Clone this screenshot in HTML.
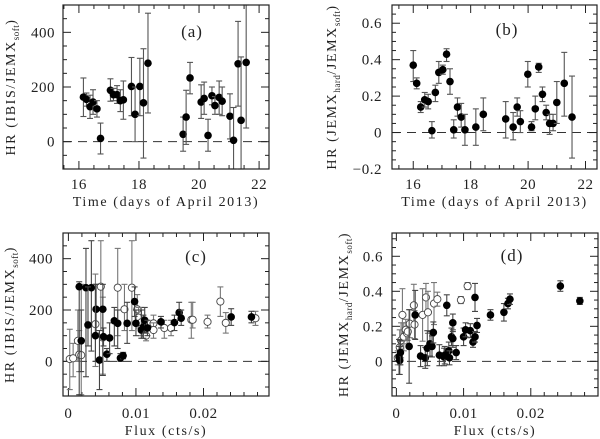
<!DOCTYPE html>
<html><head><meta charset="utf-8">
<style>
html,body{margin:0;padding:0;background:#fff;}
svg{display:block;font-family:"Liberation Serif",serif;}
</style></head>
<body>
<svg id="fig" width="600" height="439" viewBox="0 0 600 439" xmlns="http://www.w3.org/2000/svg"></svg>
<script>
// ---- Panel (a): HR IBIS/JEMX soft vs time ----
const aTime=[16.15,16.25,16.37,16.47,16.6,16.72,17.05,17.15,17.27,17.38,17.48,17.75,17.87,18.03,18.15,18.3,19.47,19.57,19.7,20.07,20.17,20.3,20.43,20.53,20.67,20.77,21.03,21.15,21.3,21.4,21.57];
const aHR=[163,155,128,145,120,12,188,172,172,150,153,202,100,202,142,287,27,90,233,145,158,23,168,132,162,148,93,5,285,78,290];
const aLo=[92,130,85,100,90,-45,148,150,140,110,82,95,0,95,-60,105,-35,-10,175,85,100,-35,135,100,100,95,10,-100,130,-100,50];
const aHi=[233,178,170,190,150,68,230,195,205,190,222,308,200,305,340,470,90,188,290,208,218,82,200,165,222,200,175,125,440,310,500];
// ---- Panel (b): HR JEMX hard/soft vs time ----
const bTime=[16.0,16.12,16.26,16.4,16.52,16.65,16.77,16.89,17.03,17.16,17.28,17.41,17.54,17.67,17.8,18.18,18.44,19.22,19.48,19.62,19.73,19.99,20.12,20.25,20.37,20.5,20.63,20.75,20.87,21.0,21.26,21.53];
const bHR=[0.37,0.27,0.14,0.18,0.17,0.01,0.22,0.33,0.345,0.43,0.28,0.015,0.14,0.085,0.015,0.03,0.10,0.075,0.03,0.14,0.06,0.32,0.03,0.13,0.36,0.21,0.11,0.05,0.05,0.165,0.27,0.085];
const bLo=[0.28,0.24,0.11,0.14,0.13,-0.03,0.17,0.27,0.32,0.39,0.21,-0.03,0.09,0.03,-0.07,-0.07,0.01,-0.03,-0.04,0.09,0,0.25,0.01,0.07,0.33,0.17,0.07,-0.01,0.01,0.05,0.09,-0.14];
const bHi=[0.45,0.30,0.17,0.22,0.21,0.06,0.26,0.39,0.37,0.46,0.35,0.07,0.19,0.16,0.10,0.13,0.19,0.17,0.11,0.19,0.12,0.39,0.06,0.20,0.38,0.25,0.15,0.10,0.10,0.28,0.44,0.31];
// ---- Panel (c): HR IBIS/JEMX soft vs flux ----
const cFluxF=[0.0016,0.0019,0.0026,0.0034,0.0029,0.0041,0.0040,0.0046,0.0051,0.0052,0.0057,0.0061,0.0068,0.0073,0.0077,0.0081,0.0087,0.0098,0.0100,0.0108,0.0111,0.0113,0.0117,0.0137,0.0157,0.0164,0.0167,0.0241,0.0271];
const cHRF=[291,80,287,287,142,203,100,5,203,96,28,91,158,148,13,22,148,233,148,122,134,160,130,154,151,190,168,173,173];
const cLoF=[-130,-40,-60,40,60,110,0,-110,-55,60,0,30,60,50,0,10,70,175,100,90,90,110,100,130,120,160,140,140,150];
const cHiF=[310,200,440,470,290,300,300,120,300,130,50,150,210,200,30,35,230,290,200,200,180,210,160,175,180,230,200,205,195];
const cFluxO=[0.0002,0.0007,0.0014,0.0016,0.0019,0.0040,0.0048,0.0051,0.0073,0.0083,0.0094,0.0102,0.0104,0.0108,0.0115,0.0126,0.0126,0.0142,0.0152,0.0182,0.0184,0.0206,0.0225,0.0233,0.0277];
const cHRO=[9,12,80,26,24,145,291,93,287,203,287,203,170,152,100,148,122,130,130,162,162,154,233,150,168];
const cLoO=[-110,-60,0,-40,-130,-20,120,-50,100,120,120,150,130,100,80,120,90,90,100,90,130,130,175,110,140];
const cHiO=[125,70,200,120,300,340,470,250,440,300,470,260,210,210,130,180,150,160,160,230,230,180,290,190,195];
// ---- Panel (d): HR JEMX hard/soft vs flux ----
const dFluxF=[0.0004,0.0005,0.0006,0.0019,0.0028,0.0036,0.0043,0.0046,0.005,0.0053,0.0055,0.0064,0.0071,0.0072,0.0075,0.0078,0.0079,0.0082,0.0084,0.0084,0.0089,0.01,0.0103,0.011,0.0114,0.0117,0.0117,0.012,0.014,0.016,0.0166,0.0169,0.0244,0.0273];
const dHRF=[0.025,0.005,0.05,0.085,0.265,0.03,0.02,0.075,0.1,0.085,0.165,0.035,0.025,0.035,0.32,0.06,0.02,0.14,0.22,0.13,0.05,0.14,0.18,0.175,0.11,0.14,0.365,0.205,0.265,0.28,0.33,0.355,0.43,0.345];
const dErrF=[0.1,0.08,0.07,0.21,0.14,0.06,0.06,0.1,0.07,0.06,0.06,0.06,0.05,0.05,0.06,0.05,0.04,0.05,0.05,0.05,0.04,0.05,0.04,0.04,0.03,0.03,0.08,0.04,0.03,0.05,0.03,0.03,0.03,0.02];
const dFluxO=[0.0002,0.0005,0.0007,0.0009,0.0011,0.0014,0.0016,0.0017,0.002,0.0026,0.0027,0.0039,0.0044,0.0047,0.0056,0.0061,0.0096,0.0106];
const dHRO=[0.02,0.08,0.12,0.265,0.14,0.18,0.16,0.17,0.215,0.32,0.21,0.265,0.365,0.28,0.33,0.355,0.35,0.43];
const dErrO=[0.04,0.1,0.1,0.15,0.08,0.06,0.06,0.05,0.08,0.12,0.08,0.15,0.08,0.12,0.12,0.04,0.02,0.02];

const NS="http://www.w3.org/2000/svg";
const svg=document.getElementById('fig');
function mk(tag,attrs,parent){const e=document.createElementNS(NS,tag);for(const k in attrs)e.setAttribute(k,attrs[k]);(parent||svg).appendChild(e);return e;}

function panel(cfg){
  const g=mk('g',{});
  
  
  const {x0,x1,y0,y1,xmin,xmax,ymin,ymax}=cfg;
  const sx=v=>x0+(v-xmin)/(xmax-xmin)*(x1-x0);
  const sy=v=>y1-(v-ymin)/(ymax-ymin)*(y1-y0);
  const z=mk('line',{x1:x0,x2:x1,y1:sy(0),y2:sy(0),stroke:'#333','stroke-width':1,'stroke-dasharray':'9,6'},g);
  
  
  const tg=mk('g',{stroke:'#222','stroke-width':1},g);
  
  
  const eps=1e-9;
  for(let v=Math.ceil((xmin-eps)/cfg.xminor)*cfg.xminor; v<=xmax+eps; v+=cfg.xminor){
    const major=Math.abs(v/cfg.xmajor-Math.round(v/cfg.xmajor))<1e-6;
    const L=major?8:4,X=sx(v);
    mk('line',{x1:X,x2:X,y1:y1,y2:y1-L},tg);mk('line',{x1:X,x2:X,y1:y0,y2:y0+L},tg);
  }
  for(let v=Math.ceil((ymin-eps)/cfg.yminor)*cfg.yminor; v<=ymax+eps; v+=cfg.yminor){
    const major=Math.abs(v/cfg.ymajor-Math.round(v/cfg.ymajor))<1e-6;
    const L=major?8:4,Y=sy(v);
    mk('line',{x1:x0,x2:x0+L,y1:Y,y2:Y},tg);mk('line',{x1:x1,x2:x1-L,y1:Y,y2:Y},tg);
  }
  cfg.xticks.forEach((t,i)=>{const e=mk('text',{x:sx(cfg.xtickVals[i]),y:cfg.xlabY,'text-anchor':'middle','font-size':15,'letter-spacing':0.5,fill:'#222'},g);e.textContent=t;
    });
  cfg.yticks.forEach((t,i)=>{const e=mk('text',{x:cfg.ylabX,y:sy(cfg.ytickVals[i])+5,'text-anchor':'end','font-size':15,'letter-spacing':0.5,fill:'#222'},g);e.textContent=t;
    });
  function series(xs,ys,lo,hi,filled,ecol,nm){
    const sg=mk('g',{},g);
    
    
    xs.forEach((xv,i)=>{
      const X=sx(xv);
      const yhi0=sy(hi[i]);
      const yl=Math.min(sy(lo[i]),y1),yh=Math.max(yhi0,y0);
      mk('line',{x1:X,x2:X,y1:yl,y2:yh,stroke:ecol,'stroke-width':1.1},sg);
      if(sy(lo[i])<=y1) mk('line',{x1:X-3,x2:X+3,y1:yl,y2:yl,stroke:ecol,'stroke-width':1.1},sg);
      if(yhi0>=y0) mk('line',{x1:X-3,x2:X+3,y1:yh,y2:yh,stroke:ecol,'stroke-width':1.1},sg);
      const c=mk('circle',{cx:X,cy:sy(ys[i]),r:filled?3.8:3.6,fill:filled?'#000':'#fff',stroke:filled?'#000':'#444','stroke-width':filled?0:0.9},sg);
      
      
    });
  }
  cfg.series.forEach(s=>series(s[0],s[1],s[2],s[3],s[4],s[5],s[6]));
  const fr=mk('rect',{x:x0,y:y0,width:x1-x0,height:y1-y0,fill:'none',stroke:'#222','stroke-width':1.2},g);
  
  
  const pl=mk('text',{x:cfg.plx,y:cfg.ply,'text-anchor':'middle','font-size':17,'letter-spacing':1,fill:'#222'},g);pl.textContent=cfg.label;
  
  const xt=mk('text',{x:(x0+x1)/2,y:cfg.xtY,'text-anchor':'middle','font-size':14,'letter-spacing':1.6,fill:'#222'},g);xt.textContent=cfg.xtitle;
  
  const yt=mk('text',{x:0,y:0,'text-anchor':'middle','font-size':14,'letter-spacing':1.6,fill:'#222',transform:`translate(${cfg.ytX},${(y0+y1)/2}) rotate(-90)`},g);
  
  yt.innerHTML=cfg.ytitle;
}
const t1='HR (IBIS/JEMX<tspan font-size="9" letter-spacing="0.5" dy="4">soft</tspan><tspan dy="-4">)</tspan>';
const t2='HR (JEMX<tspan font-size="9" letter-spacing="0.5" dy="4">hard</tspan><tspan dy="-4">/JEMX</tspan><tspan font-size="9" letter-spacing="0.5" dy="4">soft</tspan><tspan dy="-4">)</tspan>';
panel({name:'panel-a',x0:63,x1:269,y0:5,y1:169,xmin:15.47,xmax:22.33,ymin:-100,ymax:500,
  xminor:0.5,xmajor:2,yminor:50,ymajor:200,xticks:['16','18','20','22'],xtickVals:[16,18,20,22],
  yticks:['400','200','0'],ytickVals:[400,200,0],xlabY:189,ylabX:55,
  series:[[aTime,aHR,aLo,aHi,true,'#555','series-a']],plx:192,ply:37,label:'(a)',
  xtitle:'Time (days of April 2013)',xtY:206,ytX:15,ytitle:t1});
panel({name:'panel-b',x0:392,x1:597,y0:5,y1:169,xmin:15.26,xmax:22.4,ymin:-0.2,ymax:0.7,
  xminor:0.5,xmajor:2,yminor:0.05,ymajor:0.2,xticks:['16','18','20','22'],xtickVals:[16,18,20,22],
  yticks:['0.6','0.4','0.2','0','−0.2'],ytickVals:[0.6,0.4,0.2,0,-0.2],xlabY:189,ylabX:382,
  series:[[bTime,bHR,bLo,bHi,true,'#555','series-b']],plx:507,ply:35,label:'(b)',
  xtitle:'Time (days of April 2013)',xtY:206,ytX:336,ytitle:t2});
panel({name:'panel-c',x0:63,x1:269,y0:233,y1:396,xmin:-0.0008,xmax:0.0297,ymin:-135,ymax:500,
  xminor:0.002,xmajor:0.01,yminor:50,ymajor:200,xticks:['0','0.01','0.02'],xtickVals:[0,0.01,0.02],
  yticks:['400','200','0'],ytickVals:[400,200,0],xlabY:418,ylabX:53,
  series:[[cFluxO,cHRO,cLoO,cHiO,false,'#777','series-c-open'],[cFluxF,cHRF,cLoF,cHiF,true,'#444','series-c-filled']],
  plx:196,ply:262,label:'(c)',xtitle:'Flux (cts/s)',xtY:435,ytX:14,ytitle:t1});
const dLoF=dHRF.map((v,i)=>v-dErrF[i]), dHiF=dHRF.map((v,i)=>v+dErrF[i]);
const dLoO=dHRO.map((v,i)=>v-dErrO[i]), dHiO=dHRO.map((v,i)=>v+dErrO[i]);
panel({name:'panel-d',x0:392,x1:598,y0:233,y1:396,xmin:-0.00065,xmax:0.0300,ymin:-0.198,ymax:0.733,
  xminor:0.002,xmajor:0.01,yminor:0.05,ymajor:0.2,xticks:['0','0.01','0.02'],xtickVals:[0,0.01,0.02],
  yticks:['0.6','0.4','0.2','0'],ytickVals:[0.6,0.4,0.2,0],xlabY:418,ylabX:383,
  series:[[dFluxO,dHRO,dLoO,dHiO,false,'#777','series-d-open'],[dFluxF,dHRF,dLoF,dHiF,true,'#444','series-d-filled']],
  plx:512,ply:261,label:'(d)',xtitle:'Flux (cts/s)',xtY:435,ytX:348,ytitle:t2});
</script>
</body></html>
